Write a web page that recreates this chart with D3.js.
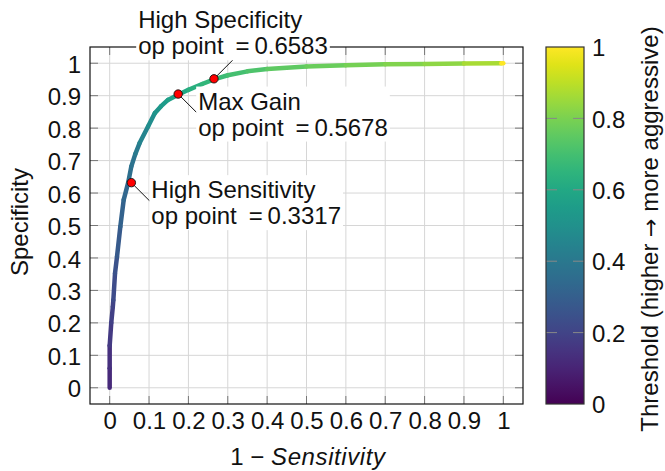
<!DOCTYPE html>
<html>
<head>
<meta charset="utf-8">
<script src="https://cdn.jsdelivr.net/npm/d3@7"></script>
<style>
  body { margin: 0; background: #fff; }
  text { font-family: "Liberation Sans", Arial, sans-serif; fill: #111; }
</style>
</head>
<body>
<svg id="chart"></svg>
<script>
// DATA
const fpr = [0, 0, 0, 0.004, 0.008, 0.0093, 0.0135, 0.0186, 0.027, 0.0356,
  0.047, 0.055, 0.065, 0.076, 0.0975, 0.1145, 0.13, 0.148, 0.174, 0.2,
  0.235, 0.265, 0.3, 0.35, 0.4, 0.5, 0.6, 0.7, 0.8, 0.9, 0.995, 1.0];
const specificity = [0, 0.06, 0.13, 0.2, 0.25, 0.27, 0.352, 0.404, 0.496, 0.579,
  0.632, 0.682, 0.72, 0.754, 0.805, 0.846, 0.867, 0.887, 0.903, 0.918,
  0.936, 0.95, 0.963, 0.975, 0.982, 0.99, 0.994, 0.997, 0.998, 0.999, 1.0, 1.0];
const threshold = [0.10, 0.12, 0.14, 0.17, 0.19, 0.20, 0.23, 0.25, 0.28, 0.31,
  0.33, 0.36, 0.38, 0.41, 0.45, 0.49, 0.52, 0.545, 0.568, 0.595,
  0.63, 0.658, 0.68, 0.70, 0.72, 0.75, 0.77, 0.79, 0.81, 0.83, 0.87, 1.0];

const opNames = ["High Sensitivity", "Max Gain", "High Specificity"];
const opValues = ["0.3317", "0.5678", "0.6583"];
const opFpr = [0.0551, 0.174, 0.265];
const opSpec = [0.632, 0.905, 0.952];

const xTicks = [0, 0.1, 0.2, 0.3, 0.4, 0.5, 0.6, 0.7, 0.8, 0.9, 1];
const yTicks = [0, 0.1, 0.2, 0.3, 0.4, 0.5, 0.6, 0.7, 0.8, 0.9, 1];
const cbTicks = [0, 0.2, 0.4, 0.6, 0.8, 1];

// DIMENSIONS
const W = 665, H = 471;
const plot = { left: 90, right: 523, top: 47, bottom: 404 };
const cb = { left: 546, right: 584, top: 47, bottom: 404 };
const FS = 24;
const FONT = "Liberation Sans, Arial, sans-serif";

const svg = d3.select("#chart").attr("width", W).attr("height", H);

const x = d3.scaleLinear().domain([-0.05, 1.05]).range([plot.left, plot.right]);
const y = d3.scaleLinear().domain([-0.05, 1.05]).range([plot.bottom, plot.top]);
const color = d3.scaleSequential(d3.interpolateViridis).domain([0, 1]);
const fmt = d3.format("~g");

// GRID
const gGrid = svg.append("g");
gGrid.selectAll("line.vx").data(xTicks).join("line")
  .attr("x1", d => x(d)).attr("x2", d => x(d))
  .attr("y1", plot.top).attr("y2", plot.bottom)
  .attr("stroke", "#d6d6d6").attr("stroke-width", 1);
gGrid.selectAll("line.hy").data(yTicks).join("line")
  .attr("y1", d => y(d)).attr("y2", d => y(d))
  .attr("x1", plot.left).attr("x2", plot.right)
  .attr("stroke", "#d6d6d6").attr("stroke-width", 1);

// TICK MARKS ON ALL FOUR SIDES (inside)
const TL = 8;
const ticks = svg.append("g").attr("stroke", "#777").attr("stroke-width", 1);
xTicks.forEach(t => {
  ticks.append("line").attr("x1", x(t)).attr("x2", x(t)).attr("y1", plot.bottom).attr("y2", plot.bottom - TL);
  ticks.append("line").attr("x1", x(t)).attr("x2", x(t)).attr("y1", plot.top).attr("y2", plot.top + TL);
});
yTicks.forEach(t => {
  ticks.append("line").attr("y1", y(t)).attr("y2", y(t)).attr("x1", plot.left).attr("x2", plot.left + TL);
  ticks.append("line").attr("y1", y(t)).attr("y2", y(t)).attr("x1", plot.right).attr("x2", plot.right - TL);
});

// FRAME
svg.append("rect")
  .attr("x", plot.left).attr("y", plot.top)
  .attr("width", plot.right - plot.left).attr("height", plot.bottom - plot.top)
  .attr("fill", "none").attr("stroke", "#111").attr("stroke-width", 1.2);

// TICK LABELS via axes (lines hidden)
const xAxis = svg.append("g")
  .attr("transform", `translate(0,${plot.bottom})`)
  .call(d3.axisBottom(x).tickValues(xTicks).tickFormat(fmt).tickSize(0).tickPadding(6));
const yAxis = svg.append("g")
  .attr("transform", `translate(${plot.left},0)`)
  .call(d3.axisLeft(y).tickValues(yTicks).tickFormat(fmt).tickSize(0).tickPadding(9));
[xAxis, yAxis].forEach(a => {
  a.select(".domain").remove();
  a.selectAll("text").attr("font-size", FS).attr("font-family", FONT).attr("fill", "#111");
});
xAxis.selectAll("text").attr("dy", "0.78em");
yAxis.selectAll("text").attr("dy", "0.38em");

// CURVE: segments coloured by threshold
const pts = fpr.map((f, i) => ({ x: f, y: specificity[i], t: threshold[i] }));
const segs = d3.pairs(pts);
svg.append("g").selectAll("line").data(segs).join("line")
  .attr("x1", d => x(d[0].x)).attr("y1", d => y(d[0].y))
  .attr("x2", d => x(d[1].x)).attr("y2", d => y(d[1].y))
  .attr("stroke", d => color(d[1].t))
  .attr("stroke-width", 4.5)
  .attr("stroke-linecap", "round");

// ANNOTATIONS
const ann = svg.append("g");
const offsets = [[19, 19], [19, 19], [19, -19]];
opNames.forEach((name, i) => {
  const px = x(opFpr[i]), py = y(opSpec[i]);
  const ex = px + offsets[i][0], ey = py + offsets[i][1];
  ann.append("line").attr("x1", px).attr("y1", py).attr("x2", ex).attr("y2", ey)
    .attr("stroke", "#111").attr("stroke-width", 1);

  const g = ann.append("g");
  const txt = g.append("text").attr("font-size", FS);
  txt.append("tspan").attr("x", 0).attr("y", 0).text(name);
  txt.append("tspan").attr("x", 0).attr("y", 26).text("op point\u2002=\u2009" + opValues[i]);
  const bb = txt.node().getBBox();
  let tx, ty;
  if (offsets[i][1] > 0) {
    // anchored west of the text block
    tx = ex + 1 - bb.x;
    ty = ey - (bb.y + bb.height / 2) + 1;
  } else {
    // anchored south of the text block
    tx = ex - (bb.x + bb.width / 2);
    ty = ey - (bb.y + bb.height) - 0.5;
  }
  g.attr("transform", `translate(${tx},${ty})`);
  g.insert("rect", "text")
    .attr("x", bb.x - 2).attr("y", bb.y - 1)
    .attr("width", bb.width + 4).attr("height", bb.height + 2)
    .attr("fill", "#fff");

  ann.append("circle").attr("cx", px).attr("cy", py).attr("r", 4.2)
    .attr("fill", "#f00").attr("stroke", "#111").attr("stroke-width", 0.9);
});

// AXIS TITLES
const xt = svg.append("text").attr("x", 308).attr("y", 465)
  .attr("text-anchor", "middle").attr("font-size", FS);
xt.append("tspan").text("1 \u2212 ");
xt.append("tspan").attr("font-style", "italic").attr("letter-spacing", 0.6).text("Sensitivity");

svg.append("text")
  .attr("transform", "translate(28,222) rotate(-90)")
  .attr("text-anchor", "middle").attr("font-size", FS)
  .text("Specificity");

// COLORBAR
const defs = svg.append("defs");
const grad = defs.append("linearGradient").attr("id", "viridis")
  .attr("x1", 0).attr("y1", 1).attr("x2", 0).attr("y2", 0);
d3.range(0, 1.0001, 0.05).forEach(s => {
  grad.append("stop").attr("offset", s).attr("stop-color", color(s));
});
const cy = d3.scaleLinear().domain([0, 1]).range([cb.bottom, cb.top]);
svg.append("rect")
  .attr("x", cb.left).attr("y", cb.top)
  .attr("width", cb.right - cb.left).attr("height", cb.bottom - cb.top)
  .attr("fill", "url(#viridis)");
svg.append("g").attr("stroke", "#888").attr("stroke-width", 1)
  .selectAll("g").data(cbTicks.slice(1, -1)).join(enter => {
    const g = enter.append("g");
    g.append("line").attr("x1", cb.left).attr("x2", cb.left + 11).attr("y1", d => cy(d)).attr("y2", d => cy(d));
    g.append("line").attr("x1", cb.right - 11).attr("x2", cb.right).attr("y1", d => cy(d)).attr("y2", d => cy(d));
    return g;
  });
svg.append("rect")
  .attr("x", cb.left).attr("y", cb.top)
  .attr("width", cb.right - cb.left).attr("height", cb.bottom - cb.top)
  .attr("fill", "none").attr("stroke", "#333").attr("stroke-width", 1.2);
const cAxis = svg.append("g")
  .attr("transform", `translate(${cb.right},0)`)
  .call(d3.axisRight(cy).tickValues(cbTicks).tickFormat(fmt).tickSize(0).tickPadding(8));
cAxis.select(".domain").remove();
cAxis.selectAll("text").attr("font-size", FS).attr("font-family", FONT)
  .attr("fill", "#111").attr("dy", "0.36em");

const ct = svg.append("text")
  .attr("transform", "translate(658,229) rotate(-90)")
  .attr("text-anchor", "middle").attr("font-size", FS);
ct.append("tspan").text("Threshold (higher ");
ct.append("tspan").attr("font-family", "DejaVu Sans").attr("font-size", FS - 2).text("\u2192");
ct.append("tspan").text(" more aggressive)");
</script>
</body>
</html>
